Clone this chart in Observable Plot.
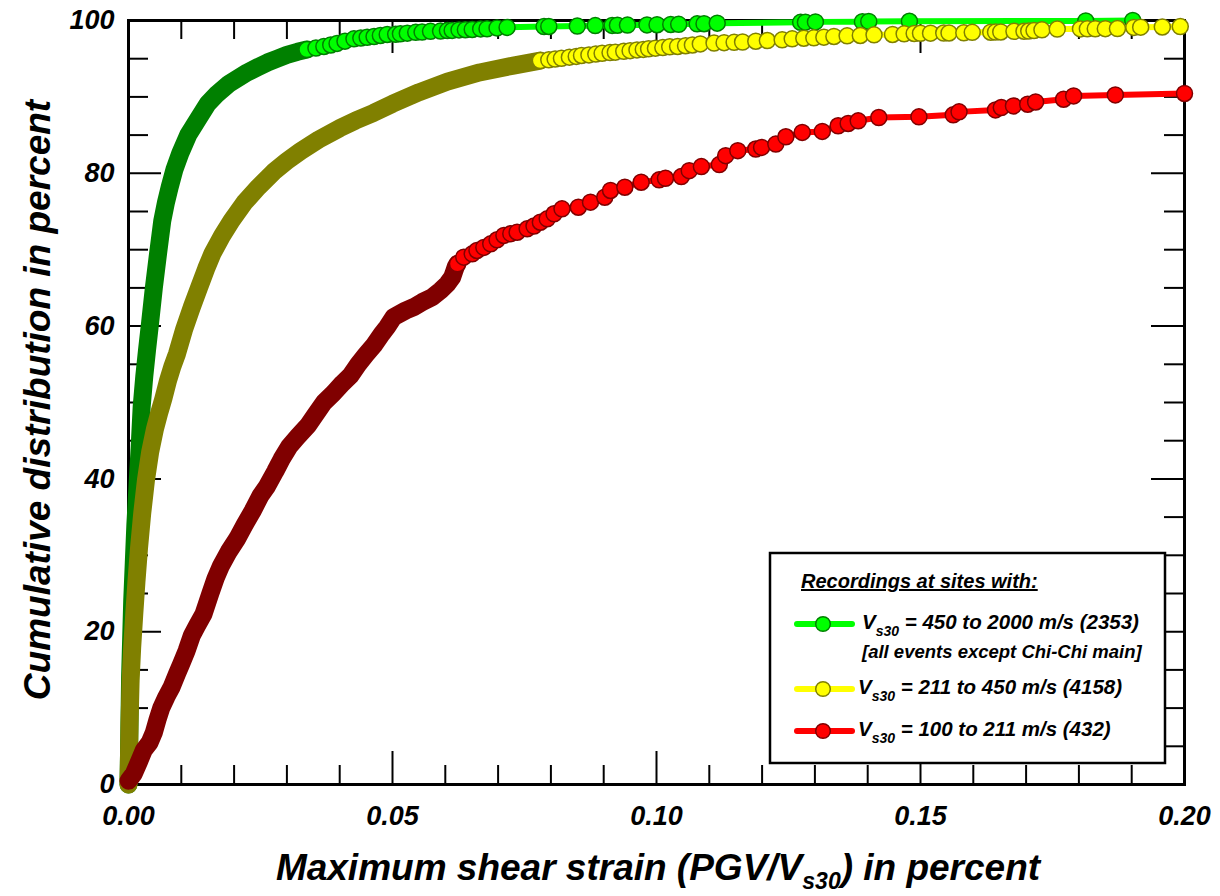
<!DOCTYPE html>
<html><head><meta charset="utf-8">
<script src="https://cdn.jsdelivr.net/npm/d3@7"></script>
<script src="https://cdn.jsdelivr.net/npm/@observablehq/plot@0.6"></script>
<style>body{margin:0;background:#fff;} #chart svg{display:block;}</style>
</head><body><div id="chart"></div>
<script>
// ---- Data (cumulative distribution, %) ----
const greenX = [0.0000,0.0001,0.0002,0.0003,0.0005,0.0007,0.0010,0.0013,0.0017,0.0021,0.0025,0.0030,0.0035,0.0041,0.0048,0.0056,0.0064,0.0071,0.0078,0.0087,0.0098,0.0113,0.0131,0.0150,0.0168,0.0190,0.0225,0.0245,0.0263,0.0282,0.0300,0.0320,0.0338,0.0355,0.0370,0.0383,0.0395,0.0410,0.0427,0.0440,0.0452,0.0465,0.0477,0.0490,0.0506,0.0515,0.0528,0.0544,0.0556,0.0572,0.0591,0.0604,0.0613,0.0626,0.0638,0.0651,0.0667,0.0679,0.0698,0.0717,0.0787,0.0796,0.0850,0.0884,0.0916,0.0926,0.0945,0.0982,0.1001,0.1027,0.1042,0.1077,0.1090,0.1115,0.1273,0.1282,0.1301,0.1390,0.1402,0.1479,0.1813,0.1902];
const greenY = [0,4,9,14,19,24,29,34,39,44,49.5,53.5,56.8,60.5,65.0,69.5,73.8,76.2,78.2,80.5,82.6,85.0,87.0,89.1,90.4,91.7,93.2,93.9,94.5,95.0,95.5,95.9,96.2,96.4,96.6,96.8,97.0,97.3,97.6,97.7,97.8,97.9,98.04,98.17,98.2,98.25,98.34,98.45,98.48,98.58,98.61,98.68,98.70,98.77,98.79,98.83,98.90,98.92,99.03,99.10,99.20,99.22,99.27,99.33,99.36,99.38,99.40,99.42,99.45,99.48,99.50,99.56,99.58,99.65,99.76,99.78,99.82,99.85,99.87,99.90,99.95,100];

const yellowX = [0.0000,0.0001,0.0002,0.0004,0.0007,0.0011,0.0015,0.0020,0.0026,0.0033,0.0041,0.0050,0.0058,0.0066,0.0075,0.0083,0.0092,0.0105,0.0120,0.0134,0.0147,0.0159,0.0177,0.0195,0.0220,0.0246,0.0275,0.0300,0.0326,0.0360,0.0400,0.0430,0.0464,0.0500,0.0550,0.0604,0.0665,0.0729,0.0780,0.0796,0.0808,0.0820,0.0835,0.0848,0.0858,0.0872,0.0885,0.0897,0.0912,0.0922,0.0938,0.0950,0.0963,0.0975,0.0985,0.0998,0.1012,0.1025,0.1040,0.1055,0.1068,0.1083,0.1109,0.1128,0.1147,0.1163,0.1188,0.1210,0.1238,0.1257,0.1279,0.1298,0.1317,0.1336,0.1361,0.1386,0.1412,0.1447,0.1469,0.1488,0.1500,0.1519,0.1544,0.1554,0.1582,0.1598,0.1633,0.1642,0.1652,0.1677,0.1696,0.1705,0.1715,0.1730,0.1759,0.1803,0.1816,0.1831,0.1850,0.1873,0.1904,0.1917,0.1958,0.1992];
const yellowY = [0,4,8,13.6,18,22.4,26.5,31.0,35.5,39.8,43.5,46.5,48.6,50.5,52.9,54.7,56.4,59.5,62.5,65.1,67.5,69.5,71.8,73.8,76.2,78.2,80.2,81.6,82.9,84.4,85.9,86.9,87.9,89.1,90.6,92.0,93.2,94.1,94.75,94.85,94.95,95.05,95.2,95.3,95.42,95.5,95.6,95.7,95.8,95.86,95.97,96.05,96.15,96.22,96.29,96.38,96.45,96.55,96.6,96.7,96.8,96.94,97.05,97.1,97.14,97.18,97.29,97.38,97.47,97.6,97.68,97.73,97.82,97.91,97.99,98.04,98.12,98.17,98.25,98.3,98.33,98.34,98.36,98.37,98.39,98.45,98.47,98.48,98.5,98.58,98.6,98.62,98.69,98.78,98.88,98.9,98.91,98.92,98.93,98.95,99.1,99.13,99.15,99.21];

const redX = [0.0000,0.0010,0.0020,0.0029,0.0040,0.0048,0.0055,0.0062,0.0072,0.0082,0.0092,0.0100,0.0110,0.0120,0.0130,0.0142,0.0155,0.0165,0.0175,0.0190,0.0206,0.0220,0.0235,0.0250,0.0262,0.0278,0.0290,0.0305,0.0320,0.0340,0.0355,0.0370,0.0388,0.0405,0.0420,0.0435,0.0450,0.0465,0.0480,0.0490,0.0502,0.0525,0.0540,0.0556,0.0575,0.0591,0.0604,0.0613,0.0617,0.0620,0.0623,0.0635,0.0651,0.0660,0.0673,0.0686,0.0698,0.0711,0.0724,0.0736,0.0755,0.0768,0.0780,0.0793,0.0806,0.0821,0.0852,0.0875,0.0902,0.0913,0.0940,0.0971,0.1005,0.1017,0.1047,0.1062,0.1085,0.1119,0.1131,0.1154,0.1188,0.1199,0.1226,0.1245,0.1276,0.1314,0.1344,0.1363,0.1382,0.1421,0.1497,0.1562,0.1573,0.1642,0.1653,0.1676,0.1703,0.1718,0.1771,0.1790,0.1869,0.2000];
const redY = [0.5,1.4,3.0,4.5,5.5,6.8,8.5,10.0,11.5,12.8,14.5,15.8,17.5,19.5,20.8,22.3,25.0,27.0,28.6,30.5,32.2,34.0,35.8,37.8,39.0,41.0,42.6,44.3,45.5,47.0,48.5,50.0,51.2,52.5,53.5,55.0,56.3,57.5,59.0,59.9,61.17,62.04,62.48,63.13,63.78,64.66,65.53,66.40,67.2,67.8,68.15,69.02,69.46,69.90,70.3,70.77,71.3,71.86,72.1,72.29,72.73,73.1,73.60,74.04,74.70,75.35,75.56,76.22,76.87,77.75,78.18,78.83,79.14,79.35,79.57,80.35,80.88,81.14,82.31,82.96,83.18,83.39,83.82,84.78,85.35,85.48,86.22,86.52,86.87,87.30,87.39,87.65,88.04,88.30,88.61,88.82,89.04,89.34,89.70,90.13,90.26,90.45];

const seriesLabels = ["450 to 2000 m/s (2353)", "211 to 450 m/s (4158)", "100 to 211 m/s (432)"];
const legendNote = "[all events except Chi-Chi main]";
const legendTitle = "Recordings at sites with:";

const xTicks = [0, 0.05, 0.10, 0.15, 0.20];
const xTickLabels = ["0.00", "0.05", "0.10", "0.15", "0.20"];
const xMinorTicks = [0.01,0.02,0.03,0.04,0.06,0.07,0.08,0.09,0.11,0.12,0.13,0.14,0.16,0.17,0.18,0.19];
const xMajorInner = [0.05, 0.10, 0.15];
const yTicks = [0, 20, 40, 60, 80, 100];
const yTickLabels = ["0", "20", "40", "60", "80", "100"];
const yMinorTicks = [5,10,15,25,30,35,45,50,55,65,70,75,85,90,95];
const yMajorInner = [20, 40, 60, 80];

// ---- styling ----
const FONT = "Liberation Sans, Arial, Helvetica, sans-serif";
const W = 1220, H = 896, ML = 128, MR = 36, MT = 20, MB = 112;
const PW = W - ML - MR, PH = H - MT - MB;
const series = [
  {xs: greenX, ys: greenY, fill: "#00ff00", dark: "#008000", denseTo: 0.034},
  {xs: yellowX, ys: yellowY, fill: "#ffff00", dark: "#808000", denseTo: 0.078},
  {xs: redX, ys: redY, fill: "#ff0000", dark: "#800000", denseTo: 0.0623}
];

const dataMarks = [];
for (const s of series) {
  const pts = s.xs.map((x, i) => ({x, y: s.ys[i]}));
  const band = pts.filter(d => d.x <= s.denseTo);
  const lastBand = band[band.length - 1].x;
  const dots = pts.filter(d => d.x >= lastBand);
  dataMarks.push(
    Plot.line(pts, {x: "x", y: "y", stroke: s.fill, strokeWidth: 6}),
    Plot.line(band, {x: "x", y: "y", stroke: s.dark, strokeWidth: 18, strokeLinecap: "round", strokeLinejoin: "round"}),
    Plot.dot(dots, {x: "x", y: "y", r: 8, fill: s.fill, stroke: s.dark, strokeWidth: 1.5})
  );
}

const tickStyle = {stroke: "black", strokeWidth: 2};
const txt = {fontFamily: FONT, fontWeight: "bold", fontStyle: "italic", fontSize: 27, fill: "black"};

const svg = Plot.plot({
  width: W, height: H,
  marginTop: MT, marginRight: MR, marginBottom: MB, marginLeft: ML,
  x: {domain: [0, 0.2], axis: null},
  y: {domain: [0, 100], axis: null},
  style: {background: "white", overflow: "visible", fontFamily: FONT},
  marks: [
    // inward ticks on all four sides
    Plot.ruleX(xMinorTicks, {x: d => d, insetTop: PH - 19, ...tickStyle}),
    Plot.ruleX(xMajorInner, {x: d => d, insetTop: PH - 33, ...tickStyle}),
    Plot.ruleX(xMinorTicks, {x: d => d, insetBottom: PH - 19, ...tickStyle}),
    Plot.ruleX(xMajorInner, {x: d => d, insetBottom: PH - 33, ...tickStyle}),
    Plot.ruleY(yMinorTicks, {y: d => d, insetRight: PW - 20, ...tickStyle}),
    Plot.ruleY(yMajorInner, {y: d => d, insetRight: PW - 33, ...tickStyle}),
    Plot.ruleY(yMinorTicks, {y: d => d, insetLeft: PW - 20, ...tickStyle}),
    Plot.ruleY(yMajorInner, {y: d => d, insetLeft: PW - 33, ...tickStyle}),
    Plot.frame({stroke: "black", strokeWidth: 3}),
    ...dataMarks,
    Plot.text(xTicks, {x: d => d, y: 0, dy: 32, text: (d, i) => xTickLabels[i], ...txt}),
    Plot.text(yTicks, {x: 0, y: d => d, dx: -14, text: (d, i) => yTickLabels[i], textAnchor: "end", ...txt})
  ]
});
document.getElementById("chart").appendChild(svg);

// ---- axis titles & legend (SVG text with subscripts) ----
const root = d3.select(svg);
const tstyle = sel => sel.attr("font-family", FONT).attr("font-weight", "bold").attr("font-style", "italic")
  .attr("fill", "black").attr("text-anchor", "start");

const xt = root.append("text").call(tstyle).attr("x", 658).attr("y", 880).attr("text-anchor", "middle").attr("font-size", 37);
xt.append("tspan").text("Maximum shear strain (PGV/V");
xt.append("tspan").attr("font-size", 23).attr("dy", 9).text("s30");
xt.append("tspan").attr("dy", -9).text(") in percent");

root.append("text").call(tstyle).attr("font-size", 37).attr("text-anchor", "middle")
  .attr("transform", "translate(50,400) rotate(-90)").text("Cumulative distribution in percent");

const lg = root.append("g");
lg.append("rect").attr("x", 770).attr("y", 553).attr("width", 395).attr("height", 210)
  .attr("fill", "white").attr("stroke", "black").attr("stroke-width", 2.5);
lg.append("text").call(tstyle).attr("x", 801).attr("y", 588).attr("font-size", 20)
  .attr("text-decoration", "underline").text(legendTitle);
const rows = [{y: 624, tx: 862}, {y: 689, tx: 858}, {y: 731, tx: 858}];
rows.forEach((r, i) => {
  const s = series[i];
  lg.append("line").attr("x1", 797).attr("x2", 852).attr("y1", r.y).attr("y2", r.y)
    .attr("stroke", s.fill).attr("stroke-width", 6).attr("stroke-linecap", "round");
  lg.append("circle").attr("cx", 823).attr("cy", r.y).attr("r", 7.3)
    .attr("fill", s.fill).attr("stroke", s.dark).attr("stroke-width", 1.5);
  const t = lg.append("text").call(tstyle).attr("x", r.tx).attr("y", r.y + 5).attr("font-size", 20.5);
  t.append("tspan").text("V");
  t.append("tspan").attr("font-size", 14).attr("dy", 7).text("s30");
  t.append("tspan").attr("dy", -7).text(" = " + seriesLabels[i]);
});
lg.append("text").call(tstyle).attr("x", 862).attr("y", 658).attr("font-size", 18.5).text(legendNote);
</script>
</body></html>
